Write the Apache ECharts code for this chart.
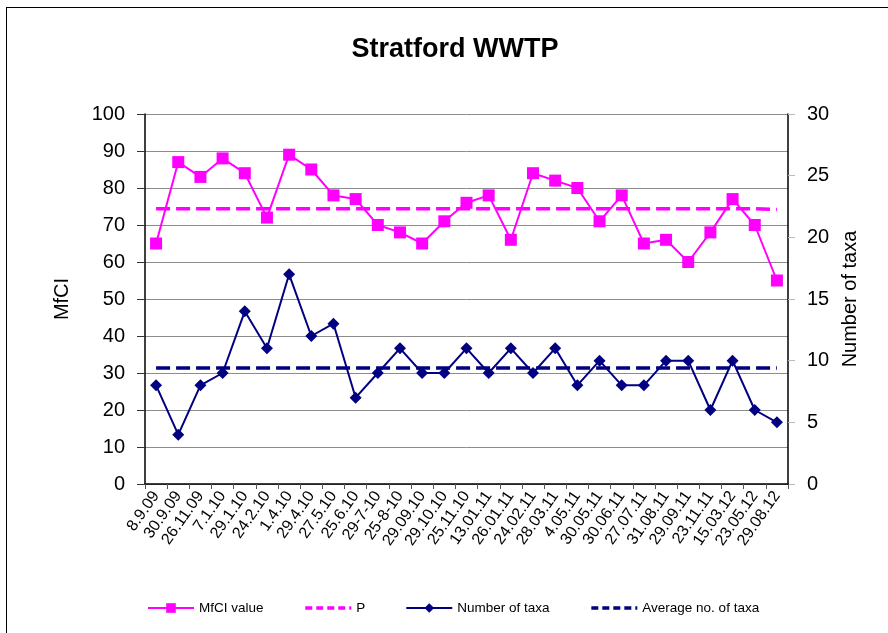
<!DOCTYPE html>
<html>
<head>
<meta charset="utf-8">
<title>Stratford WWTP</title>
<script src="https://cdn.jsdelivr.net/npm/echarts@6/dist/echarts.min.js"></script>
<style>
    html, body { margin: 0; padding: 0; background: #fff; }
    #chart { width: 888px; height: 633px; }
    .frame {
        position: absolute; left: 6px; top: 7px;
        width: 900px; height: 700px;
        border: 1px solid #000; pointer-events: none;
    }
</style>
</head>
<body>
<div id="chart"></div>
<div class="frame"></div>
<script>
// sampling dates
var dates = ['8.9.09', '30.9.09', '26.11.09', '7.1.10', '29.1.10', '24.2.10', '1.4.10', '29.4.10',
    '27.5.10', '25.6.10', '29-7-10', '25-8-10', '29.09.10', '29.10.10', '25.11.10', '13.01.11',
    '26.01.11', '24.02.11', '28.03.11', '4.05.11', '30.05.11', '30.06.11', '27.07.11', '31.08.11',
    '29.09.11', '23.11.11', '15.03.12', '23.05.12', '29.08.12']

// MfCI value (left axis)
var mfciValues = [65, 87, 83, 88, 84, 72, 89, 85, 78, 77, 70, 68, 65, 71, 76, 78, 66, 84, 82, 80,
    71, 78, 65, 66, 60, 68, 77, 70, 55]

// P (mean MfCI)
var pValues = [74.4, 74.4, 74.4, 74.4, 74.4, 74.4, 74.4, 74.4, 74.4, 74.4, 74.4, 74.4, 74.4, 74.4, 74.4,
    74.4, 74.4, 74.4, 74.4, 74.4, 74.4, 74.4, 74.4, 74.4, 74.4, 74.4, 74.4, 74.4, 74.2]

// number of taxa (right axis)
var taxaValues = [8, 4, 8, 9, 14, 11, 17, 12, 13, 7, 9, 11, 9, 9, 11, 9, 11, 9, 11, 8,
    10, 8, 8, 10, 10, 6, 10, 6, 5]

// average no. of taxa
var avgTaxaValues = [9.4, 9.4, 9.4, 9.4, 9.4, 9.4, 9.4, 9.4, 9.4, 9.4, 9.4, 9.4, 9.4, 9.4, 9.4,
    9.4, 9.4, 9.4, 9.4, 9.4, 9.4, 9.4, 9.4, 9.4, 9.4, 9.4, 9.4, 9.4, 9.4]

var leftTicks = [0, 100, 10]
var rightTicks = [0, 30, 5]

var font = '"Liberation Sans", Arial, sans-serif'
var pink = '#ff00ff'
var navy = '#000080'

var myChart = echarts.init(document.getElementById('chart'))

var option = {
    animation: false,
    backgroundColor: '#fff',
    textStyle: { fontFamily: font, color: '#000' },
    title: {
        text: 'Stratford WWTP',
        left: 450,
        textAlign: 'center',
        top: 31,
        textStyle: { fontFamily: font, fontSize: 27, fontWeight: 'bold', color: '#000' }
    },
    legend: {
        left: 142,
        top: 596,
        itemWidth: 46,
        itemHeight: 12,
        itemGap: 40,
        textStyle: { fontFamily: font, fontSize: 13.5, color: '#000' },
        data: [
            { name: 'MfCI value' },
            // dashed entries: line only, no marker, short dashes
            { name: 'P', itemStyle: { opacity: 0 }, lineStyle: { width: 3.5, type: [7, 4] } },
            { name: 'Number of taxa' },
            { name: 'Average no. of taxa', itemStyle: { opacity: 0 }, lineStyle: { width: 3.5, type: [7, 4] } }
        ]
    },
    grid: {
        left: 145,
        right: 100,
        top: 114,
        bottom: 149,
        containLabel: false
    },
    xAxis: {
        type: 'category',
        data: dates,
        boundaryGap: true,
        axisLine: { lineStyle: { color: '#000', width: 1.5 } },
        axisTick: { show: true, inside: false, length: 5, lineStyle: { color: '#555' } },
        axisLabel: {
            rotate: 55,
            interval: 0,
            margin: 9,
            fontFamily: font,
            fontSize: 16,
            color: '#000'
        }
    },
    yAxis: [{
        type: 'value',
        min: leftTicks[0],
        max: leftTicks[1],
        interval: leftTicks[2],
        name: 'MfCI',
        nameLocation: 'middle',
        nameRotate: 90,
        nameGap: 73,
        nameTextStyle: { fontFamily: font, fontSize: 20, color: '#000' },
        axisLine: { show: true, lineStyle: { color: '#000', width: 1.5 } },
        axisTick: { show: true, inside: false, length: 8, lineStyle: { color: '#333' } },
        axisLabel: { margin: 20, fontFamily: font, fontSize: 20, color: '#000' },
        splitLine: { show: true, lineStyle: { color: '#8c8c8c', width: 1 } }
    }, {
        type: 'value',
        min: rightTicks[0],
        max: rightTicks[1],
        interval: rightTicks[2],
        position: 'right',
        name: 'Number of taxa',
        nameLocation: 'middle',
        nameRotate: 90,
        nameGap: 52,
        nameTextStyle: { fontFamily: font, fontSize: 20, color: '#000' },
        axisLine: { show: true, lineStyle: { color: '#000', width: 1.5 } },
        axisTick: { show: true, inside: false, length: 7, lineStyle: { color: '#bbb' } },
        axisLabel: { margin: 19, fontFamily: font, fontSize: 20, color: '#000' },
        splitLine: { show: false }
    }],
    series: [{
        name: 'MfCI value',
        type: 'line',
        yAxisIndex: 0,
        data: mfciValues,
        symbol: 'rect',
        symbolSize: 12,
        z: 4,
        itemStyle: { color: pink },
        lineStyle: { color: pink, width: 2 }
    }, {
        name: 'P',
        type: 'line',
        yAxisIndex: 0,
        data: pValues,
        symbol: 'none',
        z: 3,
        itemStyle: { color: pink },
        lineStyle: { color: pink, width: 3.5, type: [14, 6] }
    }, {
        name: 'Number of taxa',
        type: 'line',
        yAxisIndex: 1,
        data: taxaValues,
        symbol: 'diamond',
        symbolSize: 12,
        z: 4,
        itemStyle: { color: navy },
        lineStyle: { color: navy, width: 2 }
    }, {
        name: 'Average no. of taxa',
        type: 'line',
        yAxisIndex: 1,
        data: avgTaxaValues,
        symbol: 'none',
        z: 3,
        itemStyle: { color: navy },
        lineStyle: { color: navy, width: 3.5, type: [14, 6] }
    }]
}

myChart.setOption(option)
</script>
</body>
</html>
